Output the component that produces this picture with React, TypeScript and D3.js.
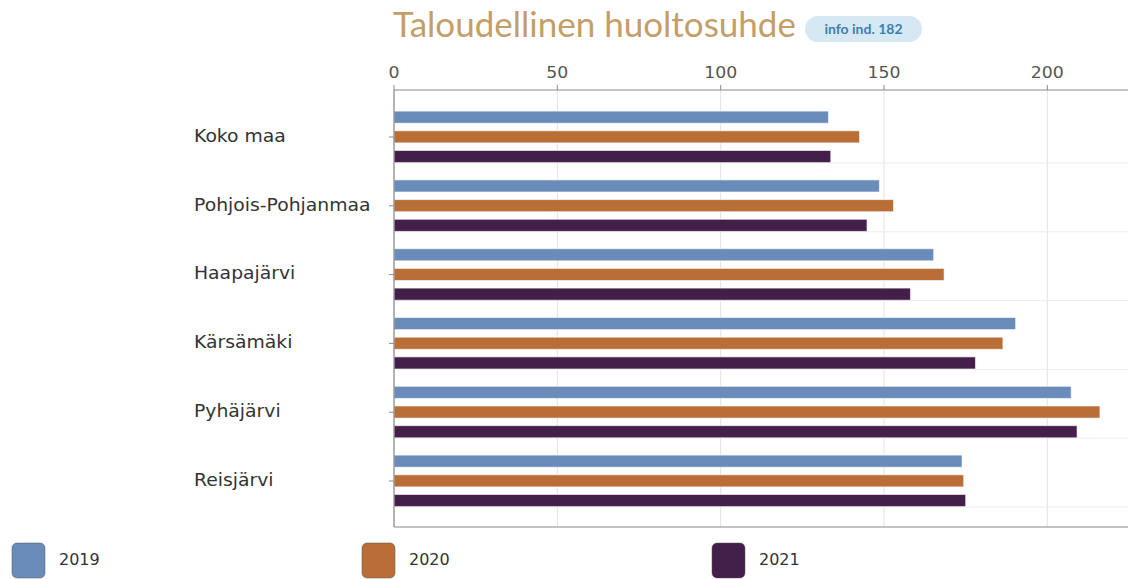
import React from 'react'
import * as d3 from 'd3'

const categories = ['Koko maa', 'Pohjois-Pohjanmaa', 'Haapajärvi', 'Kärsämäki', 'Pyhäjärvi', 'Reisjärvi']
const years = ['2019', '2020', '2021']
const values2019 = [133, 148.6, 165.2, 190.3, 207.3, 173.9]
const values2020 = [142.5, 152.9, 168.4, 186.4, 216.1, 174.4]
const values2021 = [133.7, 144.8, 158.1, 178.0, 209.1, 175.0]
const xTicks = [0, 50, 100, 150, 200]
const colors = ['#6a8cbb', '#b96e37', '#432049']

const W = 1128
const H = 579
const plotTop = 90
const plotBottom = 527
const plotLeft = 394

const App = () => {
  const series = [values2019, values2020, values2021]
  const x = d3.scaleLinear().domain([0, 225]).range([plotLeft, 1129])
  const y = d3.scaleBand().domain(categories).range([102.6, 515.4]).paddingInner(0).paddingOuter(0)
  const sub = d3.scaleBand().domain(years).range([8.5, 60]).paddingInner(0.385).paddingOuter(0)
  const gridYs = categories.map((c) => (y(c) || 0) + y.bandwidth() / 2 + 26)

  return (
    <svg width={W} height={H} style={{ position: 'absolute', left: 0, top: 0, background: '#fff' }}>
      <text x={393} y={37} fontFamily="Lato" fontSize={35} fill="#c39e69">
        Taloudellinen huoltosuhde
      </text>
      <rect x={805} y={16} width={117} height={26} rx={13} fill="#d5e8f3" />
      <text x={863.5} y={34} textAnchor="middle" fontFamily="Lato" fontWeight="bold" fontSize={14} fill="#3c7fae">
        info ind. 182
      </text>

      {/* grid */}
      {xTicks.map((t) => (
        <line key={`gx-${t}`} x1={x(t)} x2={x(t)} y1={plotTop} y2={plotBottom} stroke="#e2e2e2" />
      ))}
      {gridYs.map((gy, i) => (
        <line key={`gy-${i}`} x1={plotLeft} x2={W} y1={gy} y2={gy} stroke="#ececec" />
      ))}

      {/* bars */}
      {categories.map((c, ci) => (
        <g key={c} transform={`translate(0, ${y(c)})`}>
          {series.map((vals, si) => (
            <rect
              key={years[si]}
              x={x(0)}
              y={sub(years[si])}
              width={x(vals[ci]) - x(0)}
              height={sub.bandwidth()}
              fill={colors[si]}
              stroke="#ffffff"
              strokeOpacity={0.6}
              strokeWidth={1}
            />
          ))}
        </g>
      ))}

      {/* axes */}
      <line x1={plotLeft} x2={W} y1={plotTop} y2={plotTop} stroke="#8a8a8a" strokeWidth={1.2} />
      <line x1={plotLeft} x2={W} y1={plotBottom} y2={plotBottom} stroke="#8a8a8a" strokeWidth={1.2} />
      <line x1={plotLeft} x2={plotLeft} y1={plotTop} y2={plotBottom} stroke="#8a8a8a" strokeWidth={1.2} />
      {xTicks.map((t) => (
        <g key={`tx-${t}`}>
          <line x1={x(t)} x2={x(t)} y1={plotTop - 5} y2={plotTop} stroke="#8a8a8a" />
          <text
            transform={`translate(${x(t)}, 78) scale(1.08, 1)`}
            textAnchor="middle"
            fontFamily="DejaVu Sans"
            fontSize={16}
            fill="#555"
          >
            {t}
          </text>
        </g>
      ))}
      {categories.map((c) => {
        const cy = (y(c) || 0) + y.bandwidth() / 2
        return (
          <g key={`ty-${c}`}>
            <line x1={plotLeft - 5} x2={plotLeft} y1={cy} y2={cy} stroke="#8a8a8a" />
            <text
              transform={`translate(194, ${cy}) scale(1.105, 1)`}
              dominantBaseline="middle"
              fontFamily="DejaVu Sans"
              fontSize={17}
              fill="#333"
            >
              {c}
            </text>
          </g>
        )
      })}

      {/* legend */}
      {years.map((yr, i) => (
        <g key={`lg-${yr}`} transform={`translate(${12 + i * 350}, 543)`}>
          <rect x={0} y={0} width={33} height={35} rx={5} fill={colors[i]} stroke="#555" strokeOpacity={0.5} />
          <text x={47} y={17} dominantBaseline="middle" fontFamily="DejaVu Sans" fontSize={16} fill="#333">
            {yr}
          </text>
        </g>
      ))}
    </svg>
  )
}

export default App
